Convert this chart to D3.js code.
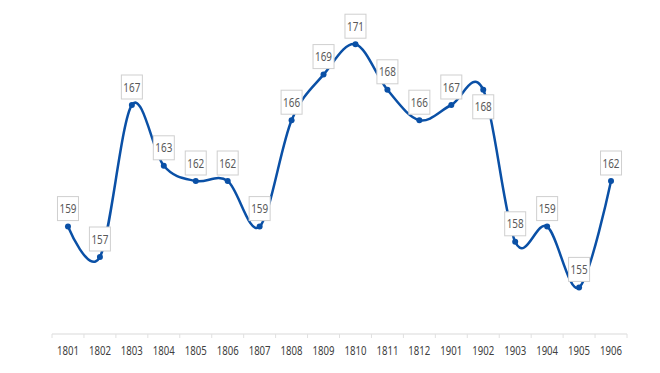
<!DOCTYPE html>
<html>
<head>
<meta charset="utf-8">
<script src="https://cdn.jsdelivr.net/npm/d3@7"></script>
<style>
  body { margin: 0; background: #fff; }
  svg { display: block; }
  .tick text { font-family: "Noto Sans", sans-serif; font-size: 12.5px; fill: #404040; }
  .lbl text { font-family: "Noto Sans", sans-serif; font-size: 12.5px; fill: #595959; }
</style>
</head>
<body>
<script>
//categories along the x axis
var years = ["1801", "1802", "1803", "1804", "1805", "1806", "1807", "1808", "1809",
             "1810", "1811", "1812", "1901", "1902", "1903", "1904", "1905", "1906"];

//series values
var values = [159, 157, 167, 163, 162, 162, 159, 166, 169, 171, 168, 166, 167, 168, 158, 159, 155, 162];

//which labels sit under the point instead of above
var labelBelow = ["1902"];

function drawChart(){
    var width = 660,
        height = 373;

    var svg = d3.select("body")
        .append("svg")
        .attr("width", width)
        .attr("height", height);

    //category scale, one band per year
    var x = d3.scaleBand()
        .domain(years)
        .range([52, 627]);

    var y = d3.scaleLinear()
        .domain([152, 172])
        .range([333, 29]);

    //x axis, ticks between categories
    var axis = svg.append("g")
        .attr("transform", "translate(0," + 334 + ")");
    axis.append("line")
        .attr("x1", x.range()[0])
        .attr("x2", x.range()[1])
        .attr("stroke", "#d9d9d9");
    axis.selectAll(".sep")
        .data(years.concat(["end"]))
        .enter()
        .append("line")
        .attr("x1", function(d, i){ return x.range()[0] + i * x.bandwidth(); })
        .attr("x2", function(d, i){ return x.range()[0] + i * x.bandwidth(); })
        .attr("y1", 0)
        .attr("y2", 4)
        .attr("stroke", "#e0e0e0");
    axis.selectAll(".tick")
        .data(years)
        .enter()
        .append("g")
        .attr("class", "tick")
        .append("text")
        .attr("x", function(d){ return x(d) + x.bandwidth() / 2; })
        .attr("y", 21)
        .attr("text-anchor", "middle")
        .attr("textLength", 22)
        .attr("lengthAdjust", "spacingAndGlyphs")
        .text(function(d){ return d; });

    var pts = years.map(function(d, i){
        return [x(d) + x.bandwidth() / 2, y(values[i])];
    });

    //smoothed line like the spreadsheet one
    var line = d3.line()
        .curve(d3.curveCardinal.tension(0));

    svg.append("path")
        .datum(pts)
        .attr("d", line)
        .attr("fill", "none")
        .attr("stroke", "#0a50a6")
        .attr("stroke-width", 2.5);

    svg.selectAll(".dot")
        .data(pts)
        .enter()
        .append("circle")
        .attr("cx", function(d){ return d[0]; })
        .attr("cy", function(d){ return d[1]; })
        .attr("r", 3)
        .attr("fill", "#0a50a6");

    //data labels in boxes
    var lbl = svg.selectAll(".lbl")
        .data(years)
        .enter()
        .append("g")
        .attr("class", "lbl")
        .attr("transform", function(d, i){
            var dy = labelBelow.indexOf(d) >= 0 ? 17 : -18;
            return "translate(" + pts[i][0] + "," + (pts[i][1] + dy) + ")";
        });
    lbl.append("rect")
        .attr("x", -10.5)
        .attr("y", -12)
        .attr("width", 21)
        .attr("height", 24)
        .attr("fill", "#fff")
        .attr("stroke", "#cfcfcf");
    lbl.append("text")
        .attr("text-anchor", "middle")
        .attr("dy", "0.36em")
        .attr("textLength", 17)
        .attr("lengthAdjust", "spacingAndGlyphs")
        .text(function(d, i){ return values[i]; });
}

drawChart();
</script>
</body>
</html>
